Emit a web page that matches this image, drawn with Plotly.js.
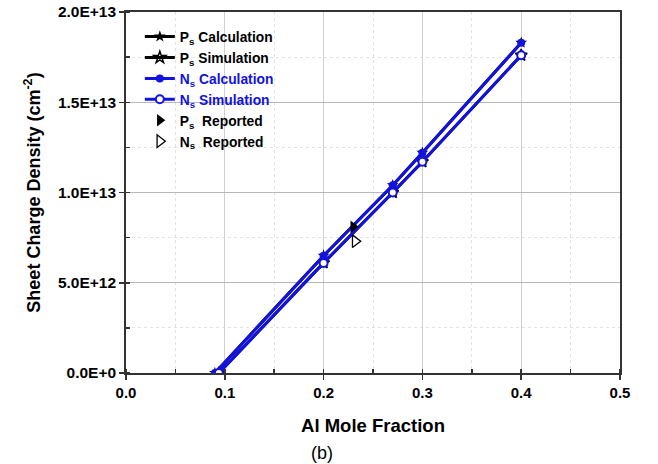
<!DOCTYPE html>
<html><head><meta charset="utf-8">
<script src="https://cdn.plot.ly/plotly-3.0.1.min.js"></script>
<style>html,body{margin:0;padding:0;background:#fff}#c{width:658px;height:464px}</style>
</head><body><div id="c"></div>
<script>
const xCalc = [0.09, 0.2, 0.27, 0.3, 0.4];
const psCalc = [0, 6.5e12, 10.4e12, 12.2e12, 18.3e12];
const nsCalc = [0, 6.5e12, 10.4e12, 12.2e12, 18.3e12];
const xSim = [0.094, 0.2, 0.27, 0.3, 0.4];
const psSim = [0, 6.1e12, 10.0e12, 11.7e12, 17.6e12];
const nsSim = [0, 6.1e12, 10.0e12, 11.7e12, 17.6e12];
const xPsRep = [0.23], psRep = [8.1e12];
const xNsRep = [0.232], nsRep = [7.3e12];
const xTicks = [0, 0.1, 0.2, 0.3, 0.4, 0.5];
const xTickText = ['0.0','0.1','0.2','0.3','0.4','0.5'];
const yTicks = [0, 5e12, 1e13, 1.5e13, 2e13];
const yTickText = ['0.0E+0','5.0E+12','1.0E+13','1.5E+13','2.0E+13'];

const BLUE = 'rgb(18,18,225)';
const FONT = 'Liberation Sans, Arial, sans-serif';

const traces = [
  {x:xCalc, y:psCalc, mode:'lines+markers', name:'P<sub>s</sub> Calculation',
   line:{color:'#000', width:3}, marker:{symbol:'star', size:9, color:'#000'}},
  {x:xSim, y:psSim, mode:'lines+markers', name:'P<sub>s</sub> Simulation',
   line:{color:'#000', width:3}, marker:{symbol:'star-open', size:9, color:'#000', line:{width:1.5}}},
  {x:xCalc, y:nsCalc, mode:'lines+markers', name:'<span style="color:'+BLUE+'">N<sub>s</sub> Calculation</span>',
   line:{color:BLUE, width:3}, marker:{symbol:'circle', size:8, color:BLUE}},
  {x:xSim, y:nsSim, mode:'lines+markers', name:'<span style="color:'+BLUE+'">N<sub>s</sub> Simulation</span>',
   line:{color:BLUE, width:3}, marker:{symbol:'circle', size:8, color:'#fff', line:{color:BLUE, width:2}}},
  {x:xPsRep, y:psRep, mode:'markers', name:'P<sub>s</sub>  Reported',
   marker:{symbol:'triangle-right', size:11, color:'#000'}},
  {x:xNsRep, y:nsRep, mode:'markers', name:'N<sub>s</sub>  Reported',
   marker:{symbol:'triangle-right-open', size:11, color:'#000', line:{width:1.3}}}
];

const layout = {
  width:658, height:464,
  margin:{l:126, r:38, t:12, b:91},
  paper_bgcolor:'#fff', plot_bgcolor:'#fff',
  font:{family:FONT, color:'#000'},
  showlegend:true,
  legend:{x:0.028, y:0.975, xanchor:'left', yanchor:'top', bgcolor:'rgba(0,0,0,0)',
          font:{family:FONT, size:13.8, weight:'bold', color:'#000'}, itemwidth:30, tracegroupgap:0},
  xaxis:{range:[0,0.5], tickvals:xTicks, ticktext:xTickText,
         tickfont:{family:FONT, size:15, weight:'bold'},
         ticks:'outside', ticklen:5, tickwidth:1.5, tickcolor:'#333',
         showline:true, linecolor:'#333', linewidth:1.8, mirror:true, zeroline:false,
         showgrid:true, gridcolor:'#d0d0d0', gridwidth:1,
         minor:{dtick:0.05, tick0:0, ticks:'inside', ticklen:4, tickcolor:'#333', showgrid:true, gridcolor:'#e2e2e2', griddash:'dot'},
         title:{text:'Al Mole Fraction', font:{family:FONT, size:18.5, weight:'bold'}, standoff:19}},
  yaxis:{range:[0,2e13], tickvals:yTicks, ticktext:yTickText,
         tickfont:{family:FONT, size:15.5, weight:'bold'},
         ticks:'outside', ticklen:5, tickwidth:1.5, tickcolor:'#333',
         showline:true, linecolor:'#333', linewidth:1.8, mirror:true, zeroline:false,
         showgrid:true, gridcolor:'#b8b8b8', gridwidth:1,
         minor:{dtick:2.5e12, tick0:0, ticks:'inside', ticklen:4, tickcolor:'#333', showgrid:true, gridcolor:'#e2e2e2', griddash:'dot'},
         title:{text:'Sheet Charge Density (cm<sup>-2</sup>)', font:{family:FONT, size:18, weight:'bold'}, standoff:13}},
  annotations:[{text:'(b)', xref:'paper', yref:'paper', x:0.397, y:-0.222, xanchor:'center', yanchor:'middle',
                showarrow:false, font:{family:FONT, size:18, color:'#000'}}]
};
Plotly.newPlot('c', traces, layout, {displayModeBar:false, staticPlot:true});
</script></body></html>
